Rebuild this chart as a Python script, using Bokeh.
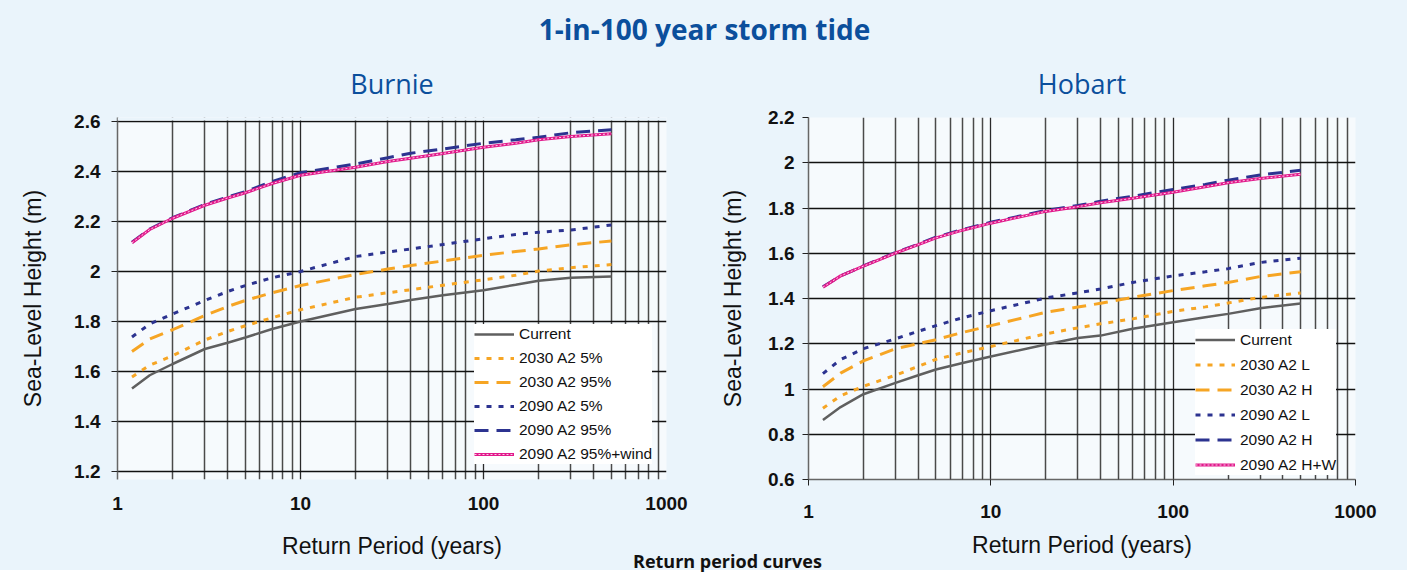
from bokeh.plotting import figure
from bokeh.models import (Range1d, FixedTicker, Legend, LegendItem, Div,
                          CustomJSTickFormatter, BoxAnnotation)
from bokeh.layouts import row, column
from bokeh.embed import file_html
from bokeh.resources import INLINE

# ---------------- data ----------------
return_period = [1.2, 1.5, 2, 3, 4, 5, 7, 10, 20, 30, 40, 60, 100, 150, 200, 300, 500]

burnie_labels = ["Current", "2030 A2 5%", "2030 A2 95%", "2090 A2 5%", "2090 A2 95%", "2090 A2 95%+wind"]
burnie_current = [1.532, 1.585, 1.630, 1.690, 1.715, 1.736, 1.770, 1.800, 1.850, 1.870, 1.886, 1.905, 1.925, 1.947, 1.963, 1.975, 1.980]
burnie_2030_5 = [1.578, 1.625, 1.663, 1.726, 1.760, 1.783, 1.815, 1.847, 1.897, 1.915, 1.927, 1.945, 1.967, 1.985, 2.002, 2.015, 2.028]
burnie_2030_95 = [1.680, 1.730, 1.767, 1.824, 1.860, 1.884, 1.915, 1.944, 1.988, 2.010, 2.024, 2.042, 2.065, 2.080, 2.090, 2.107, 2.122]
burnie_2090_5 = [1.738, 1.790, 1.830, 1.884, 1.920, 1.944, 1.975, 2.000, 2.060, 2.078, 2.090, 2.108, 2.131, 2.148, 2.157, 2.166, 2.186]
burnie_2090_95 = [2.117, 2.170, 2.215, 2.268, 2.298, 2.320, 2.360, 2.395, 2.430, 2.455, 2.473, 2.490, 2.513, 2.527, 2.537, 2.555, 2.567]
burnie_2090_95w = [2.115, 2.168, 2.213, 2.265, 2.294, 2.315, 2.352, 2.385, 2.417, 2.440, 2.453, 2.472, 2.497, 2.513, 2.527, 2.540, 2.551]

hobart_labels = ["Current", "2030 A2 L", "2030 A2 H", "2090 A2 L", "2090 A2 H", "2090 A2 H+W"]
hobart_current = [0.863, 0.920, 0.977, 1.027, 1.061, 1.086, 1.115, 1.144, 1.197, 1.225, 1.236, 1.266, 1.295, 1.317, 1.332, 1.357, 1.378]
hobart_2030_l = [0.915, 0.970, 1.012, 1.061, 1.100, 1.131, 1.160, 1.188, 1.244, 1.270, 1.288, 1.310, 1.343, 1.363, 1.380, 1.405, 1.424]
hobart_2030_h = [1.010, 1.070, 1.124, 1.178, 1.200, 1.218, 1.250, 1.280, 1.339, 1.362, 1.379, 1.405, 1.435, 1.456, 1.471, 1.497, 1.518]
hobart_2090_l = [1.068, 1.130, 1.178, 1.222, 1.255, 1.280, 1.315, 1.346, 1.402, 1.425, 1.442, 1.471, 1.500, 1.518, 1.532, 1.559, 1.578]
hobart_2090_h = [1.452, 1.500, 1.544, 1.603, 1.640, 1.671, 1.705, 1.737, 1.789, 1.811, 1.830, 1.852, 1.882, 1.904, 1.923, 1.946, 1.967]
hobart_2090_hw = [1.450, 1.500, 1.543, 1.601, 1.638, 1.668, 1.702, 1.733, 1.785, 1.806, 1.823, 1.843, 1.870, 1.894, 1.912, 1.930, 1.949]

x_major = [1, 10, 100, 1000]
x_minor = [2, 3, 4, 5, 6, 7, 8, 9, 20, 30, 40, 50, 60, 70, 80, 90,
           200, 300, 400, 500, 600, 700, 800, 900]
burnie_yticks = [1.2, 1.4, 1.6, 1.8, 2.0, 2.2, 2.4, 2.6]
hobart_yticks = [0.6, 0.8, 1.0, 1.2, 1.4, 1.6, 1.8, 2.0, 2.2]
burnie_ylim = (1.2, 2.6)
hobart_ylim = (0.6, 2.2)

# ---------------- styles ----------------
GRAY = "#5f5f5f"
ORANGE = "#f6a524"
NAVY = "#2c3390"
MAGENTA = "#e2198c"
BG = "#eaf4fb"
PLOT_BG = "#f6fafd"
TITLE_BLUE = "#0b4f9c"
DOTS = "5 7"
DASH = "14 8"

FRAME_H = 362  # both frames share the same pixel height (row aligns them)


def make_panel(title, labels, series, yticks, ylim, pad_px, size, borders,
               ylab_standoff, ytick_standoff, xtick_out, xtick_standoff,
               xlab_standoff, legend_loc, legend_gh, cover_top):
    bl, br, bt, bb = borders
    w, h = size
    lo, hi = ylim
    per_px = (hi - lo) / (FRAME_H - pad_px[0] - pad_px[1])
    y0 = lo - pad_px[1] * per_px
    y1 = hi + pad_px[0] * per_px
    p = figure(x_axis_type="log", x_range=Range1d(1, 1000), y_range=Range1d(y0, y1),
               width=w, height=h,
               min_border_left=bl, min_border_right=br, min_border_top=bt, min_border_bottom=bb,
               output_backend="svg", toolbar_location=None,
               background_fill_color=PLOT_BG, border_fill_color=BG,
               outline_line_color=None)
    p.title.text = title
    p.title.align = "center"
    p.title.text_font = "Open Sans"
    p.title.text_font_size = "27px"
    p.title.text_font_style = "normal"
    p.title.text_color = TITLE_BLUE
    p.title.standoff = 32

    # axes
    p.xaxis.ticker = FixedTicker(ticks=x_major, minor_ticks=x_minor)
    p.xaxis.formatter = CustomJSTickFormatter(code="return tick.toFixed(0);")
    p.yaxis.ticker = FixedTicker(ticks=yticks)
    p.yaxis.formatter = CustomJSTickFormatter(code="return tick.toFixed(1).replace(/\\.0$/, '');")
    for ax in (p.xaxis, p.yaxis):
        ax.major_label_text_font = "Liberation Sans"
        ax.major_label_text_font_style = "bold"
        ax.major_label_text_font_size = "19px"
        ax.major_label_text_color = "#111111"
        ax.axis_label_text_font = "Liberation Sans"
        ax.axis_label_text_font_style = "normal"
        ax.axis_label_text_font_size = "23px"
        ax.axis_label_text_color = "#111111"
        ax.major_tick_out = 6
        ax.major_tick_in = 0
        ax.major_tick_line_color = "#222222"
        ax.axis_line_color = "#666666"
        ax.axis_line_width = 1.5
    p.xaxis.major_tick_out = xtick_out
    if xtick_out == 0:
        p.xaxis.axis_line_color = None
        p.xaxis.major_tick_line_color = None
        p.xaxis.minor_tick_line_color = None
    else:
        p.xaxis.minor_tick_in = 3
        p.xaxis.minor_tick_out = 0
        p.xaxis.minor_tick_line_color = "#444444"
    p.yaxis.minor_tick_line_color = None
    p.xaxis.axis_label = "Return Period (years)"
    p.yaxis.axis_label = "Sea-Level Height (m)"
    p.xaxis.major_label_standoff = xtick_standoff
    p.xaxis.axis_label_standoff = xlab_standoff
    p.yaxis.major_label_standoff = ytick_standoff
    p.yaxis.axis_label_standoff = ylab_standoff

    # grids
    p.xgrid.grid_line_color = "#2a2a2a"
    p.xgrid.grid_line_width = 1.3
    p.xgrid.minor_grid_line_color = "#4a4a4a"
    p.xgrid.minor_grid_line_width = 1.5
    p.ygrid.grid_line_color = "#111111"
    p.ygrid.grid_line_width = 1.3

    # series
    cur, l30, h30, l90, h90, w90 = series
    items = []
    r = p.line(return_period, cur, line_color=GRAY, line_width=2.5)
    items.append(LegendItem(label=labels[0], renderers=[r]))
    r = p.line(return_period, l30, line_color=ORANGE, line_width=3, line_dash=DOTS)
    items.append(LegendItem(label=labels[1], renderers=[r]))
    r = p.line(return_period, h30, line_color=ORANGE, line_width=3, line_dash=DASH)
    items.append(LegendItem(label=labels[2], renderers=[r]))
    r = p.line(return_period, l90, line_color=NAVY, line_width=3, line_dash=DOTS)
    items.append(LegendItem(label=labels[3], renderers=[r]))
    r = p.line(return_period, h90, line_color=NAVY, line_width=3, line_dash=DASH)
    items.append(LegendItem(label=labels[4], renderers=[r]))
    r1 = p.line(return_period, w90, line_color=MAGENTA, line_width=3)
    r2 = p.line(return_period, w90, line_color="#ffffff", line_width=1, line_dash="2 2", line_alpha=0.8)
    items.append(LegendItem(label=labels[5], renderers=[r1, r2]))

    if cover_top:
        p.add_layout(BoxAnnotation(bottom=hi + 1.0 * per_px, fill_color=BG, fill_alpha=1.0,
                                   line_alpha=0))

    legend = Legend(items=items, location=legend_loc)
    legend.label_text_font = "Liberation Sans"
    legend.label_text_font_size = "15.5px"
    legend.label_text_color = "#111111"
    legend.glyph_width = 40
    legend.glyph_height = legend_gh
    legend.label_height = legend_gh
    legend.label_standoff = 5
    legend.spacing = 4
    legend.padding = 5
    legend.margin = 0
    legend.background_fill_color = "#ffffff"
    legend.background_fill_alpha = 1.0
    legend.border_line_color = None
    p.add_layout(legend, "center")
    return p


p_burnie = make_panel("Burnie", burnie_labels,
                      [burnie_current, burnie_2030_5, burnie_2030_95, burnie_2090_5, burnie_2090_95, burnie_2090_95w],
                      burnie_yticks, burnie_ylim, (4, 8), (704, 519), (117, 38, 71, 86),
                      25, 11, 0, 13, 20, (357, 15), 20, True)
p_hobart = make_panel("Hobart", hobart_labels,
                      [hobart_current, hobart_2030_l, hobart_2030_h, hobart_2090_l, hobart_2090_h, hobart_2090_hw],
                      hobart_yticks, hobart_ylim, (0, 0), (695, 519), (104, 44, 71, 86),
                      19, 8, 6, 19, 11, (387, 4), 21, False)

title_div = Div(text="1-in-100 year storm tide", width=1399, height=36,
                styles={"font-family": "Open Sans", "font-weight": "bold", "font-size": "28px",
                        "color": TITLE_BLUE, "text-align": "center", "line-height": "48px",
                        "background-color": BG})
caption_div = Div(text="Return period curves", width=1399, height=18, margin=(-13, 0, 0, 0),
                  styles={"font-family": "Open Sans", "font-weight": "bold", "font-size": "18px",
                          "color": "#111111", "line-height": "18px", "padding-left": "633px",
                          "position": "relative", "z-index": "5"})

layout = column(title_div, row(p_burnie, p_hobart), caption_div)
layout.styles = {"background-color": BG}

open("out.html", "w").write(file_html(layout, INLINE))
